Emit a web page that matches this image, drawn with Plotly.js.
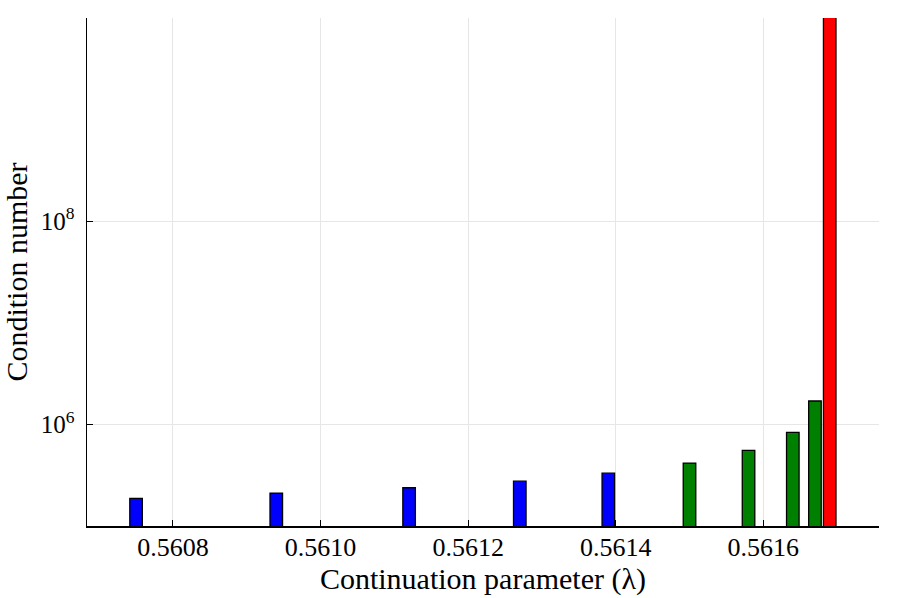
<!DOCTYPE html>
<html>
<head>
<meta charset="utf-8">
<script src="https://cdn.plot.ly/plotly-3.0.1.min.js"></script>
<style>html,body{margin:0;padding:0;background:#fff;}#chart{width:897px;height:598px;}</style>
</head>
<body>
<div id="chart"></div>
<script>
// Data
const lambdaBlue = [0.56075, 0.56094, 0.56112, 0.56127, 0.56139];
const condBlue = [1.87e5, 2.10e5, 2.38e5, 2.76e5, 3.31e5];
const lambdaGreen = [0.56150, 0.56158, 0.56164, 0.56167];
const condGreen = [4.16e5, 5.55e5, 8.34e5, 1.70e6];
const lambdaRed = [0.56169];
const condRed = [1e11];
const xTickVals = [0.5608, 0.5610, 0.5612, 0.5614, 0.5616];
const xTickText = ["0.5608", "0.5610", "0.5612", "0.5614", "0.5616"];
const yTickVals = [1e6, 1e8];
const yTickText = ["10<sup>6</sup>", "10<sup>8</sup>"];

const barW = 0.000017;
function bars(x, y, color) {
  return {
    type: 'bar', x: x, y: y, width: x.map(() => barW),
    marker: {color: color, line: {color: '#000', width: 1.3}},
    showlegend: false, hoverinfo: 'x+y'
  };
}
const data = [
  bars(lambdaBlue, condBlue, '#0000ff'),
  bars(lambdaGreen, condGreen, '#008000'),
  bars(lambdaRed, condRed, '#ff0000')
];
const fam = '"Liberation Serif", "Times New Roman", serif';
const layout = {
  width: 897, height: 598,
  margin: {l: 87, r: 18, t: 18, b: 72},
  paper_bgcolor: '#fff', plot_bgcolor: '#fff',
  barmode: 'overlay',
  font: {family: fam, color: '#000', size: 22},
  xaxis: {
    range: [0.5606835, 0.5617568],
    tickvals: xTickVals, ticktext: xTickText,
    ticks: 'inside', ticklen: 6, tickcolor: '#000', tickwidth: 1,
    ticklabelstandoff: -3,
    showgrid: true, gridcolor: '#e6e6e6', gridwidth: 1,
    showline: true, linecolor: '#000', linewidth: 1.5,
    zeroline: false, mirror: false,
    tickfont: {family: fam, size: 26, color: '#000'},
    title: {text: 'Continuation parameter (λ)', font: {family: fam, size: 30, color: '#000'}, standoff: 3}
  },
  yaxis: {
    type: 'log', range: [5, 10],
    tickvals: yTickVals, ticktext: yTickText,
    ticks: 'inside', ticklen: 6, tickcolor: '#000', tickwidth: 1,
    ticklabelstandoff: 6,
    showgrid: true, gridcolor: '#e6e6e6', gridwidth: 1,
    showline: true, linecolor: '#000', linewidth: 1.5,
    zeroline: false, mirror: false,
    tickfont: {family: fam, size: 25, color: '#000'},
    title: {text: 'Condition number', font: {family: fam, size: 30, color: '#000'}, standoff: 6}
  }
};
Plotly.newPlot('chart', data, layout, {displayModeBar: false, staticPlot: true});
</script>
</body>
</html>
